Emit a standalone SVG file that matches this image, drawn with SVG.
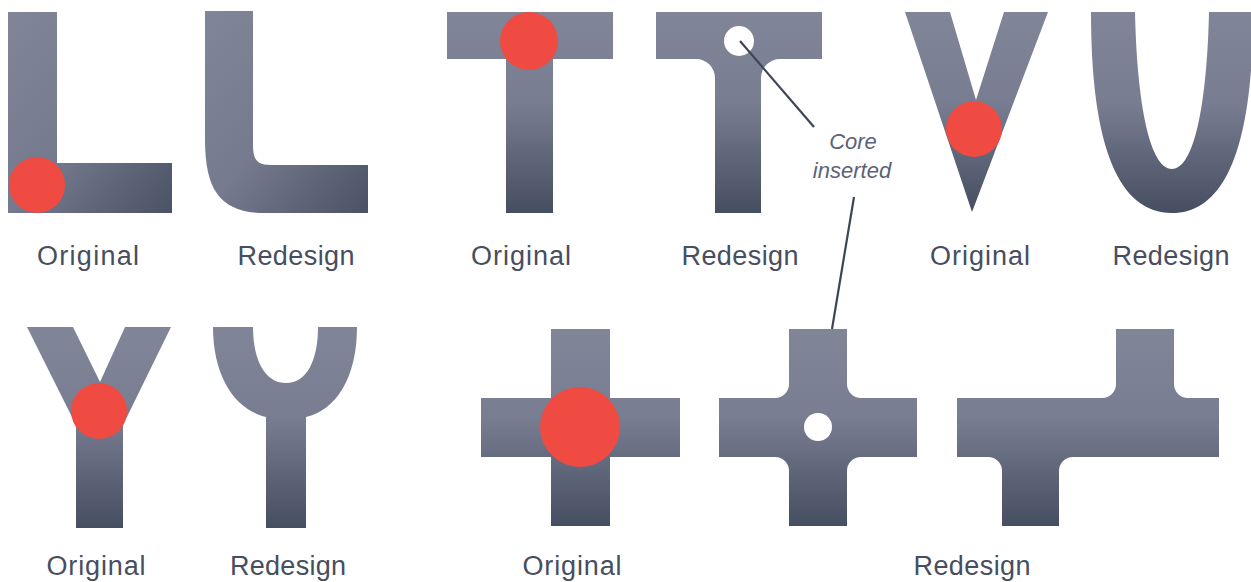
<svg xmlns="http://www.w3.org/2000/svg" width="1251" height="582" viewBox="0 0 1251 582">
  <defs>
    <linearGradient id="gv" x1="0" y1="0" x2="0" y2="1">
      <stop offset="0" stop-color="#818598"/>
      <stop offset="0.45" stop-color="#797d91"/>
      <stop offset="1" stop-color="#464e62"/>
    </linearGradient>
    <linearGradient id="gd" x1="0" y1="0" x2="1" y2="1">
      <stop offset="0" stop-color="#818598"/>
      <stop offset="0.5" stop-color="#767a8e"/>
      <stop offset="1" stop-color="#4a5266"/>
    </linearGradient>
  </defs>
  <style>
    .shape-v { fill: url(#gv); }
    .shape-d { fill: url(#gd); }
    .red { fill: #ef4b42; }
    .core { fill: #ffffff; }
    .lbl { font-family: "Liberation Sans", Arial, sans-serif; font-size: 27px; fill: #474e60; text-anchor: middle; }
    .note { font-family: "Liberation Sans", Arial, sans-serif; font-size: 22px; font-style: italic; fill: #5c6376; text-anchor: middle; }
    .leader { stroke: #3e4557; stroke-width: 2.2; fill: none; }
  </style>
  <rect width="1251" height="582" fill="#ffffff"/>

  <g id="L-original">
    <path class="shape-d" d="M8,12 H57 V163 H172 V213 H8 Z"/>
    <circle class="red" cx="37" cy="185" r="28"/>
    <text class="lbl" x="88" y="265" textLength="102" lengthAdjust="spacing">Original</text>
  </g>

  <g id="L-redesign">
    <path class="shape-d" d="M205,11 H253 V145 C253,160 257,165 271,165 H368 V213 H265 C222,213 205,192 205,140 Z"/>
    <text class="lbl" x="296" y="265" textLength="117" lengthAdjust="spacing">Redesign</text>
  </g>

  <g id="T-original">
    <path class="shape-v" d="M447,12 H613 V59 H553 V213 H506 V59 H447 Z"/>
    <circle class="red" cx="529" cy="41" r="29"/>
    <text class="lbl" x="521" y="265" textLength="100" lengthAdjust="spacing">Original</text>
  </g>

  <g id="T-redesign">
    <path class="shape-v" d="M656,12 H822 V59 H780 A19,19 0 0 0 761,78 V213 H715 V78 A19,19 0 0 0 696,59 H656 Z"/>
    <circle class="core" cx="739" cy="41" r="15"/>
    <text class="lbl" x="740" y="265" textLength="117" lengthAdjust="spacing">Redesign</text>
  </g>

  <g id="V-original">
    <path class="shape-v" d="M905,12 H950 L976,100 L1004,12 H1048 L972,212 Z"/>
    <circle class="red" cx="974" cy="129" r="28"/>
    <text class="lbl" x="980" y="265" textLength="100" lengthAdjust="spacing">Original</text>
  </g>

  <g id="U-redesign">
    <path class="shape-v" d="M1091,12 H1135 C1137,105 1150,169 1172,169 C1194,169 1207,105 1209,12 H1253 C1253,150 1224,213 1172,213 C1120,213 1091,150 1091,12 Z"/>
    <text class="lbl" x="1171" y="265" textLength="117" lengthAdjust="spacing">Redesign</text>
  </g>

  <g id="Y-original">
    <path class="shape-v" d="M27,327 H73 L100,382 L125,327 H171 L123,425 V528 H76 V425 Z"/>
    <circle class="red" cx="99" cy="411" r="28"/>
    <text class="lbl" x="96" y="575" textLength="99" lengthAdjust="spacing">Original</text>
  </g>

  <g id="Y-redesign">
    <path class="shape-v" d="M213,327 H253 C253,360 265,383 286,383 C307,383 318,360 318,327 H357 C357,378 336,410 306,417 V528 H266 V417 C236,410 213,378 213,327 Z"/>
    <text class="lbl" x="288" y="575" textLength="116" lengthAdjust="spacing">Redesign</text>
  </g>

  <g id="cross-original">
    <path class="shape-v" d="M551,329 H610 V398 H680 V457 H610 V526 H551 V457 H481 V398 H551 Z"/>
    <circle class="red" cx="580" cy="427" r="40"/>
    <text class="lbl" x="572" y="575" textLength="99" lengthAdjust="spacing">Original</text>
  </g>

  <g id="cross-redesign">
    <path class="shape-v" d="M789,329 H847 V384 A14,14 0 0 0 861,398 H917 V457 H861 A14,14 0 0 0 847,471 V526 H789 V471 A14,14 0 0 0 775,457 H719 V398 H775 A14,14 0 0 0 789,384 Z"/>
    <circle class="core" cx="818" cy="427" r="14"/>
  </g>

  <g id="cross-offset-redesign">
    <path class="shape-v" d="M1116,329 H1174 V384 A14,14 0 0 0 1188,398 H1219 V457 H1073 A14,14 0 0 0 1059,471 V526 H1002 V471 A14,14 0 0 0 988,457 H957 V398 H1102 A14,14 0 0 0 1116,384 Z"/>
    <text class="lbl" x="972" y="575" textLength="117" lengthAdjust="spacing">Redesign</text>
  </g>

  <g id="core-note">
    <text class="note" x="853" y="149">Core</text>
    <text class="note" x="852" y="178">inserted</text>
  </g>

  <g id="connectors">
    <line class="leader" x1="740" y1="41" x2="814" y2="127"/>
    <line class="leader" x1="854" y1="197" x2="832" y2="329"/>
  </g>
</svg>
